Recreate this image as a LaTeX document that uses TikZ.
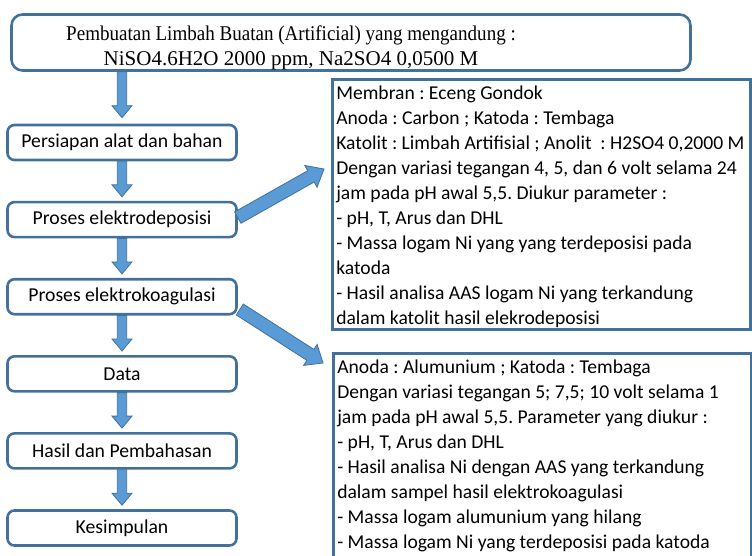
\documentclass[tikz,border=0pt]{standalone}
\usepackage{fontspec}
\usepackage{graphicx}
\setmainfont{Carlito}
\newfontfamily\serifface{Liberation Serif}
\usetikzlibrary{positioning, calc}
\definecolor{boxline}{HTML}{41719C}
\definecolor{arrowfill}{HTML}{5B9BD5}
\definecolor{arrowline}{HTML}{41719C}
\newcommand{\topstrut}{\rule{0pt}{18pt}}
\tikzset{
  stage/.style={
    rectangle,
    rounded corners=7pt,
    draw=boxline,
    line width=2.6pt,
    align=center,
    minimum width=229pt,
    minimum height=35pt,
    inner sep=3pt,
    font=\fontsize{19.7}{24}\selectfont
  },
  headbox/.style={
    rectangle,
    rounded corners=11pt,
    draw=boxline,
    line width=2.6pt,
    minimum width=679pt,
    minimum height=56pt
  },
  headtext/.style={
    align=center,
    inner sep=0pt,
    font=\serifface\fontsize{21}{25}\selectfont
  },
  infobox/.style={
    rectangle,
    draw=boxline,
    line width=2.6pt,
    align=flush left,
    anchor=north west,
    text width=410pt,
    inner xsep=4pt,
    inner ysep=2pt,
    font=\fontsize{19.6}{25}\selectfont\frenchspacing
  },
  blockarrow/.style n args={3}{
    draw=arrowline,
    fill=arrowfill,
    line width=0.8pt,
    to path={
      ($(\tikztostart)!#1!90:(\tikztotarget)$)
      -- ($($(\tikztotarget)!#3!(\tikztostart)$)!#1!90:(\tikztotarget)$)
      -- ($($(\tikztotarget)!#3!(\tikztostart)$)!#2!90:(\tikztotarget)$)
      -- (\tikztotarget)
      -- ($($(\tikztotarget)!#3!(\tikztostart)$)!#2!-90:(\tikztotarget)$)
      -- ($($(\tikztotarget)!#3!(\tikztostart)$)!#1!-90:(\tikztotarget)$)
      -- ($(\tikztostart)!#1!-90:(\tikztotarget)$)
      -- cycle
    }
  },
  vblock/.style={blockarrow={4.7pt}{10pt}{12pt}},
  dblock/.style={blockarrow={6.5pt}{12.5pt}{15pt}}
}

\begin{document}
\begin{tikzpicture}[x=1pt, y=-1pt, node distance=39.5pt]
  \useasboundingbox (0,0) rectangle (752,556);

  \node[headbox] (top) at (351,42.5) {};
  \node[headtext] (toptext) at (291,47.5)
        {\scalebox{0.907}[1]{Pembuatan Limbah Buatan (Artificial) yang mengandung :}\\
         NiSO4.6H2O 2000 ppm, Na2SO4 0,0500 M};

  \node[stage] (prep) at (122,142.5) {Persiapan alat dan bahan};
  \node[stage, below=of prep] (depo) {Proses elektrodeposisi};
  \node[stage, below=of depo] (koag) {Proses elektrokoagulasi};
  \node[stage, below=of koag] (data) {Data};
  \node[stage, below=of data] (bahas) {Hasil dan Pembahasan};
  \node[stage, below=of bahas] (simpul) {Kesimpulan};

  \node[infobox] (depoinfo) at (331,78)
        {\topstrut Membran : Eceng Gondok\\
         Anoda : Carbon ; Katoda : Tembaga\\
         Katolit : Limbah Artifisial ; Anolit\ \ : H2SO4 0,2000 M\\
         Dengan variasi tegangan 4, 5, dan 6 volt selama 24\\
         jam pada pH awal 5,5. Diukur parameter :\\
         - pH, T, Arus dan DHL\\
         - Massa logam Ni yang yang terdeposisi pada\\
         katoda\\
         - Hasil analisa AAS logam Ni yang terkandung\\
         dalam katolit hasil elekrodeposisi};
  \node[infobox] (koaginfo) at (332,352)
        {\topstrut Anoda : Alumunium ; Katoda : Tembaga\\
         Dengan variasi tegangan 5; 7,5; 10 volt selama 1\\
         jam pada pH awal 5,5. Parameter yang diukur :\\
         - pH, T, Arus dan DHL\\
         - Hasil analisa Ni dengan AAS yang terkandung\\
         dalam sampel hasil elektrokoagulasi\\
         - Massa logam alumunium yang hilang\\
         - Massa logam Ni yang terdeposisi pada katoda\rule[-14pt]{0pt}{14pt}};

  \coordinate (depotip) at (324,169);
  \coordinate (koagtip) at (323,363);

  \draw[vblock] (prep.north |- top.south) to ([yshift=6pt]prep.north);
  \draw[vblock] (prep.south) to ([yshift=4pt]depo.north);
  \draw[vblock] (depo.south) to ([yshift=4pt]koag.north);
  \draw[vblock] (koag.south) to ([yshift=4pt]data.north);
  \draw[vblock] (data.south) to ([yshift=4pt]bahas.north);
  \draw[vblock] (bahas.south) to ([yshift=4pt]simpul.north);
  \draw[dblock] ([yshift=2pt]depo.east) to (depotip);
  \draw[dblock] ([shift={(2pt,6pt)}]koag.south east) to (koagtip);
\end{tikzpicture}
\end{document}
